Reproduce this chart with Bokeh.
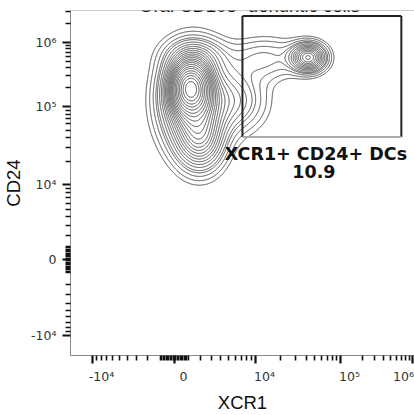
import numpy as np
from bokeh.plotting import figure
from bokeh.models import Range1d, FixedTicker, Label, Span, LinearAxis
from bokeh.embed import file_html
from bokeh.resources import INLINE

# ---------------- data ----------------
x_tick_values = [-1e4, 0, 1e4, 1e5, 1e6]
x_tick_labels = ["-10⁴", "0", "10⁴", "10⁵", "10⁶"]
y_tick_values = [-1e4, 0, 1e4, 1e5, 1e6]
y_tick_labels = ["-10⁴", "0", "10⁴", "10⁵", "10⁶"]

# cell sub-populations: XCR1 / CD24 medians, spread (channel units), share of cells
pop_xcr1 = [1160, 1320, 1970, 1555, 6000, 13200, 42400]
pop_cd24 = [1.98e5, 1.24e5, 3.70e4, 6.26e5, 1.24e5, 5.63e5, 5.83e5]
pop_sd_x = [12, 20, 15, 20, 20, 24, 11]
pop_sd_y = [16, 30, 20, 12, 20, 14, 9]
pop_frac = [0.25, 0.40, 0.12, 0.04, 0.09, 0.05, 0.06]

# contour probability levels (fraction of cells enclosed)
contour_probs = [0.04, 0.08, 0.12, 0.16, 0.20, 0.24, 0.28, 0.32, 0.36, 0.40,
                 0.44, 0.48, 0.52, 0.56, 0.60, 0.64, 0.68, 0.72, 0.76, 0.80,
                 0.84, 0.88, 0.92, 0.95, 0.97]

gate_xcr1 = [7.2e3, 7.0e5]
gate_cd24 = [4.1e4, 2.6e6]
gate_name = "XCR1+ CD24+ DCs"
gate_pct = "10.9"

title_text = "Oral CD103⁺ dendritic cells"
x_title = "XCR1"
y_title = "CD24"

# ---------------- biexponential display scale ----------------
COF = 3000.0
ANCH_V = [-1e4, 0, 1e4, 1e5, 1e6]
X_ANCH_P = [22.0, 104.0, 185.0, 270.0, 342.0]
Y_ANCH_P = [20.0, 96.0, 171.0, 249.0, 313.0]


def biex(v, anch_p):
    u = np.arcsinh(np.asarray(v, float) / COF)
    ua = np.arcsinh(np.asarray(ANCH_V, float) / COF)
    ap = np.asarray(anch_p, float)
    out = np.interp(u, ua, ap)
    s_hi = (ap[-1] - ap[-2]) / (ua[-1] - ua[-2])
    s_lo = (ap[1] - ap[0]) / (ua[1] - ua[0])
    out = np.where(u > ua[-1], ap[-1] + (u - ua[-1]) * s_hi, out)
    out = np.where(u < ua[0], ap[0] + (u - ua[0]) * s_lo, out)
    return out


def minor_values(vmax):
    vals = []
    for k in range(1, 10):
        vals += [k * 100.0, -k * 100.0, k * 1000.0, -k * 1000.0]
    dec = 1e4
    while dec < vmax:
        vals += [k * dec for k in range(2, 10)]
        dec *= 10
    return vals


XMAX, YMAX = 344.0, 345.0

p = figure(width=414, height=415, output_backend="svg", toolbar_location=None,
           x_range=Range1d(0, XMAX), y_range=Range1d(0, YMAX),
           min_border_left=70, min_border_right=0, min_border_top=10, min_border_bottom=60)
p.outline_line_color = None
p.xgrid.visible = False
p.ygrid.visible = False
p.background_fill_color = "white"
p.border_fill_color = "white"

# ---------------- density contours ----------------
gx = np.arange(0, XMAX + 1, 1.0)
gy = np.arange(0, YMAX + 1, 1.0)
GX, GY = np.meshgrid(gx, gy)
cx = biex(pop_xcr1, X_ANCH_P)
cy = biex(pop_cd24, Y_ANCH_P)
Z = np.zeros_like(GX)
for mx, my, sx, sy, f in zip(cx, cy, pop_sd_x, pop_sd_y, pop_frac):
    Z += f / (2 * np.pi * sx * sy) * np.exp(-0.5 * (((GX - mx) / sx) ** 2 + ((GY - my) / sy) ** 2))
zs = np.sort(Z.ravel())[::-1]
cum = np.cumsum(zs) / zs.sum()
levels = sorted(set(float(zs[np.searchsorted(cum, q)]) for q in contour_probs))
p.contour(gx, gy, Z, levels=levels, line_color="#505050", line_width=1)

# ---------------- gate ----------------
gxa, gxb = biex(gate_xcr1, X_ANCH_P)
gya, gyb = biex(gate_cd24, Y_ANCH_P)
p.segment(x0=[gxa, gxa, gxb], y0=[gya, gyb, gyb], x1=[gxa, gxb, gxb], y1=[gyb, gyb, gya],
          line_color="#222222", line_width=2)
p.segment(x0=[gxa], y0=[gya], x1=[gxb], y1=[gya], line_color="#aaaaaa", line_width=2)

gcx = (gxa + gxb) / 2
p.add_layout(Label(x=gcx, y=gya, text=gate_name, text_align="center", text_baseline="top",
                   x_offset=-6, y_offset=-7, text_font="DejaVu Sans", text_font_style="bold",
                   text_font_size="17.5px", text_color="#111111"))
p.add_layout(Label(x=gcx, y=gya, text=gate_pct, text_align="center", text_baseline="top",
                   x_offset=-8, y_offset=-28, text_font="DejaVu Sans", text_font_style="bold",
                   text_font_size="17.5px", text_color="#111111"))

# ---------------- axes ----------------
xt = [float(v) for v in biex(x_tick_values, X_ANCH_P)]
yt = [float(v) for v in biex(y_tick_values, Y_ANCH_P)]
xm = [float(v) for v in biex(minor_values(1e6), X_ANCH_P) if 0 < v < XMAX]
ym = [float(v) for v in biex(minor_values(1e7), Y_ANCH_P) if 0 < v < YMAX]


def style(ax):
    ax.axis_line_color = "#8a8a8a"
    ax.axis_line_width = 1
    ax.major_tick_in = 0
    ax.major_tick_out = 8
    ax.major_tick_line_width = 2.2
    ax.major_tick_line_color = "#111111"
    ax.minor_tick_in = 0
    ax.minor_tick_out = 5
    ax.minor_tick_line_width = 1.6
    ax.minor_tick_line_color = "#111111"
    ax.major_label_text_font = "DejaVu Sans"
    ax.major_label_text_font_size = "12.5px"
    ax.major_label_text_color = "#333333"
    ax.axis_label_text_font = "Liberation Sans"
    ax.axis_label_text_font_size = "18.5px"
    ax.axis_label_text_font_style = "normal"
    ax.axis_label_text_color = "#111111"


for ax, t, m in ((p.xaxis[0], xt, xm), (p.yaxis[0], yt, ym)):
    ax.ticker = FixedTicker(ticks=t, minor_ticks=m)
    style(ax)

p.yaxis[0].major_label_overrides = {v: s for v, s in zip(yt, y_tick_labels)}
p.yaxis[0].major_label_standoff = 6
p.yaxis[0].axis_label = y_title
p.yaxis[0].axis_label_standoff = 4

# bottom axis: ticks only
p.xaxis[0].major_label_overrides = {v: "" for v in xt}
p.xaxis[0].major_label_standoff = 0

# second bottom axis carrying the tick labels, set a little right of each tick
xl = [min(v + 9.0, XMAX - 11.0) for v in xt]
lab_axis = LinearAxis(ticker=FixedTicker(ticks=xl, minor_ticks=[]))
style(lab_axis)
lab_axis.axis_line_color = None
lab_axis.major_tick_out = 0
lab_axis.major_tick_line_color = None
lab_axis.minor_tick_line_color = None
lab_axis.major_label_overrides = {v: s for v, s in zip(xl, x_tick_labels)}
lab_axis.major_label_standoff = 5
lab_axis.axis_label = x_title
lab_axis.axis_label_standoff = 5
p.add_layout(lab_axis, "below")

# frame top line
p.add_layout(Span(location=YMAX, dimension="width", line_color="#9a9a9a", line_width=1))

# title (cut off at the top of the picture, as in the source)
p.add_layout(Label(x=XMAX / 2, y=YMAX, text=title_text, text_align="center",
                   text_baseline="alphabetic", x_offset=7, y_offset=5,
                   text_font="Liberation Sans", text_font_size="18.5px", text_color="#111111"))

open("out.html", "w").write(file_html(p, INLINE))
